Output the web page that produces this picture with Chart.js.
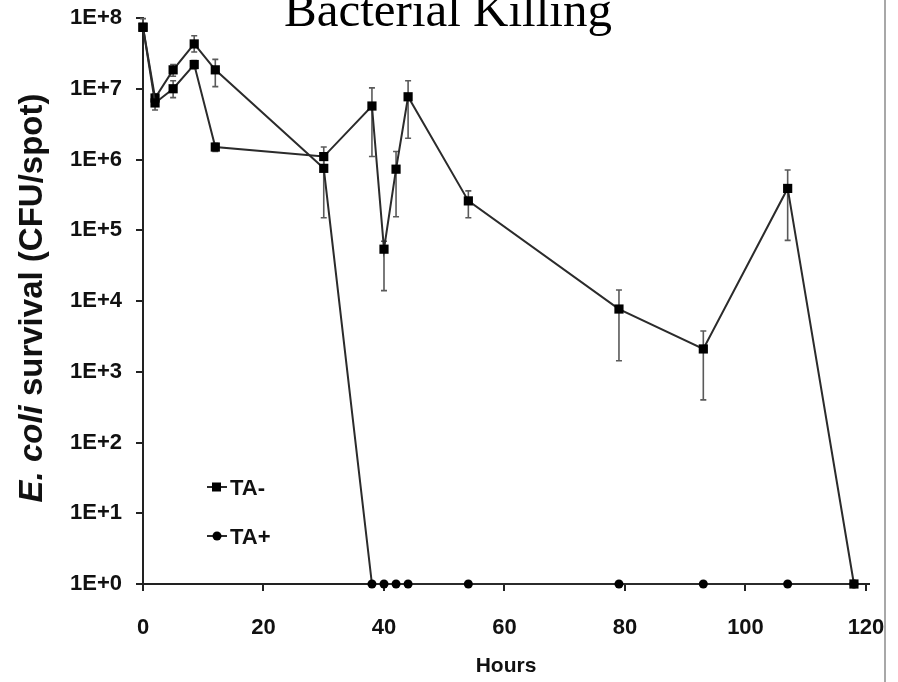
<!DOCTYPE html>
<html><head><meta charset="utf-8">
<script src="https://cdn.jsdelivr.net/npm/chart.js@4.4.1/dist/chart.umd.min.js"></script>
<style>
html,body{margin:0;padding:0;background:#fff;}
#wrap{position:relative;width:898px;height:682px;overflow:hidden;background:#fff;}
#rule{position:absolute;left:884px;top:0;width:2px;height:682px;background:#a8a8a8;}
canvas{position:absolute;left:0;top:0;}
</style></head><body>
<div id="wrap"><canvas id="c" width="898" height="682"></canvas><div id="rule"></div></div>
<script>
// ---- data ----
const hours = [0, 2, 5, 8.5, 12, 30, 38, 40, 42, 44, 54, 79, 93, 107, 118];
const taMinus     = [7.4e7, 6.3e6, 1.0e7, 2.2e7, 1.5e6, 1.1e6, 5.7e6, 5.4e4, 7.3e5, 7.7e6, 2.6e5, 7.7e3, 2.1e3, 3.9e5, 1];
const taMinusLow  = [6.8e7, 5.0e6, 7.5e6, 1.9e7, 1.3e6, 8.0e5, 1.1e6, 1.4e4, 1.55e5, 2.0e6, 1.5e5, 1.43e3, 4.0e2, 7.2e4, null];
const taMinusHigh = [8.2e7, 7.2e6, 1.3e7, 2.5e7, 1.7e6, 1.5e6, 1.03e7, 7.0e4, 1.3e6, 1.3e7, 3.6e5, 1.43e4, 3.77e3, 7.1e5, null];
const taPlus      = [7.4e7, 7.4e6, 1.85e7, 4.3e7, 1.85e7, 7.5e5, 1, 1, 1, 1, 1, 1, 1, 1, 1];
const taPlusLow   = [6.5e7, 5.8e6, 1.5e7, 3.3e7, 1.07e7, 1.5e5, null, null, null, null, null, null, null, null, null];
const taPlusHigh  = [9.8e7, 8.5e6, 2.2e7, 5.6e7, 2.6e7, 1.2e6, null, null, null, null, null, null, null, null, null];
const xTicks = [0, 20, 40, 60, 80, 100, 120];
const yTicks = [1, 1e1, 1e2, 1e3, 1e4, 1e5, 1e6, 1e7, 1e8];
const yTickLabels = ['1E+0','1E+1','1E+2','1E+3','1E+4','1E+5','1E+6','1E+7','1E+8'];
const seriesNames = ['TA-', 'TA+'];
const titleText = 'Bacterial Killing';
const xTitle = 'Hours';
const yTitleItalic = 'E. coli';
const yTitleRest = ' survival (CFU/spot)';

const SANS = '"Liberation Sans", Arial, Helvetica, sans-serif';
const INK = '#111';
const LINE = '#2b2b2b';

const errPlugin = {
  id: 'errbars',
  beforeDatasetsDraw(chart) {
    const ctx = chart.ctx, xs = chart.scales.x, ys = chart.scales.y;
    const sets = [[taMinusLow, taMinusHigh], [taPlusLow, taPlusHigh]];
    ctx.save();
    ctx.strokeStyle = '#5a5a5a';
    ctx.lineWidth = 1.6;
    sets.forEach(([lo, hi]) => {
      hours.forEach((h, i) => {
        if (lo[i] == null || hi[i] == null) return;
        const x = xs.getPixelForValue(h);
        const y1 = ys.getPixelForValue(lo[i]);
        const y2 = ys.getPixelForValue(hi[i]);
        ctx.beginPath();
        ctx.moveTo(x, y1); ctx.lineTo(x, y2);
        ctx.moveTo(x - 3, y1); ctx.lineTo(x + 3, y1);
        ctx.moveTo(x - 3, y2); ctx.lineTo(x + 3, y2);
        ctx.stroke();
      });
    });
    ctx.restore();
  }
};

const decorPlugin = {
  id: 'decor',
  afterDraw(chart) {
    const ctx = chart.ctx, a = chart.chartArea;
    ctx.save();
    // title (cut off at top as in the reference)
    ctx.fillStyle = '#000';
    ctx.font = '49px "Liberation Serif", "Times New Roman", serif';
    ctx.textAlign = 'center';
    ctx.textBaseline = 'alphabetic';
    ctx.fillText(titleText, 448, 26);
    // y-axis title with italic part
    ctx.translate(33, (a.top + a.bottom) / 2 - 3);
    ctx.rotate(-Math.PI / 2);
    ctx.textBaseline = 'middle';
    ctx.textAlign = 'left';
    const fI = 'italic bold 33px ' + SANS, fR = 'bold 33px ' + SANS;
    ctx.font = fI; const wI = ctx.measureText(yTitleItalic).width;
    ctx.font = fR; const wR = ctx.measureText(yTitleRest).width;
    const start = -(wI + wR) / 2;
    ctx.fillStyle = INK;
    ctx.font = fI; ctx.fillText(yTitleItalic, start, 0);
    ctx.font = fR; ctx.fillText(yTitleRest, start + wI, 0);
    ctx.restore();

    // legend
    ctx.save();
    const rows = [{y: a.top + 469, style: 'rect'}, {y: a.top + 518, style: 'circle'}];
    rows.forEach((r, i) => {
      const x0 = a.left + 64;
      ctx.strokeStyle = LINE; ctx.lineWidth = 2;
      ctx.beginPath(); ctx.moveTo(x0, r.y); ctx.lineTo(x0 + 20, r.y); ctx.stroke();
      ctx.fillStyle = '#000';
      if (r.style === 'rect') { ctx.fillRect(x0 + 5, r.y - 4.5, 9, 9); }
      else { ctx.beginPath(); ctx.arc(x0 + 10, r.y, 4.5, 0, Math.PI * 2); ctx.fill(); }
      ctx.fillStyle = INK;
      ctx.font = 'bold 22px ' + SANS;
      ctx.textBaseline = 'middle';
      ctx.textAlign = 'left';
      ctx.fillText(seriesNames[i], x0 + 23, r.y + 2);
    });
    ctx.restore();
  }
};

const plusStyles = taPlus.map((v, i) => i < 6 ? 'rect' : 'circle');
const plusRadius = taPlus.map((v, i) => i < 6 ? 6.5 : 4.5);

new Chart(document.getElementById('c'), {
  type: 'line',
  data: {
    datasets: [
      {
        label: seriesNames[0],
        data: hours.map((h, i) => ({x: h, y: taMinus[i]})),
        borderColor: LINE, borderWidth: 2, backgroundColor: '#000',
        pointStyle: 'rect', pointRadius: 6.5, pointBorderWidth: 0, pointBackgroundColor: '#000',
        tension: 0, clip: false
      },
      {
        label: seriesNames[1],
        data: hours.map((h, i) => ({x: h, y: taPlus[i]})),
        borderColor: LINE, borderWidth: 2, backgroundColor: '#000',
        pointStyle: plusStyles, pointRadius: plusRadius, pointBorderWidth: 0, pointBackgroundColor: '#000',
        tension: 0, clip: false
      }
    ]
  },
  options: {
    responsive: false, animation: false, devicePixelRatio: 1,
    layout: {padding: {top: 18, right: 29, left: 0, bottom: 0}},
    plugins: {legend: {display: false}, tooltip: {enabled: false}, title: {display: false}},
    scales: {
      x: {
        type: 'linear', min: 0, max: 120.5,
        afterBuildTicks: s => { s.ticks = xTicks.map(v => ({value: v})); },
        afterFit: s => { s.height = 98; s.paddingLeft = 0; s.paddingRight = 0; },
        grid: {drawOnChartArea: false, drawTicks: true, tickLength: 7, color: '#222', lineWidth: 2},
        border: {display: true, color: '#222', width: 2},
        ticks: {padding: 24, color: INK, maxRotation: 0, autoSkip: false,
                font: {family: SANS, size: 22, weight: 'bold'}},
        title: {display: true, text: xTitle, color: INK, padding: {top: 0, bottom: 3},
                font: {family: SANS, size: 21, weight: 'bold'}}
      },
      y: {
        type: 'logarithmic', min: 1, max: 1e8,
        afterBuildTicks: s => { s.ticks = yTicks.map(v => ({value: v})); },
        afterFit: s => { s.width = 143; s.paddingTop = 0; s.paddingBottom = 0; },
        grid: {drawOnChartArea: false, drawTicks: true, tickLength: 7, color: '#222', lineWidth: 2},
        border: {display: true, color: '#222', width: 2},
        ticks: {padding: 14, color: INK, autoSkip: false,
                callback: v => yTickLabels[Math.round(Math.log10(v))],
                font: {family: SANS, size: 22, weight: 'bold'}}
      }
    }
  },
  plugins: [errPlugin, decorPlugin]
});
</script>
</body></html>
